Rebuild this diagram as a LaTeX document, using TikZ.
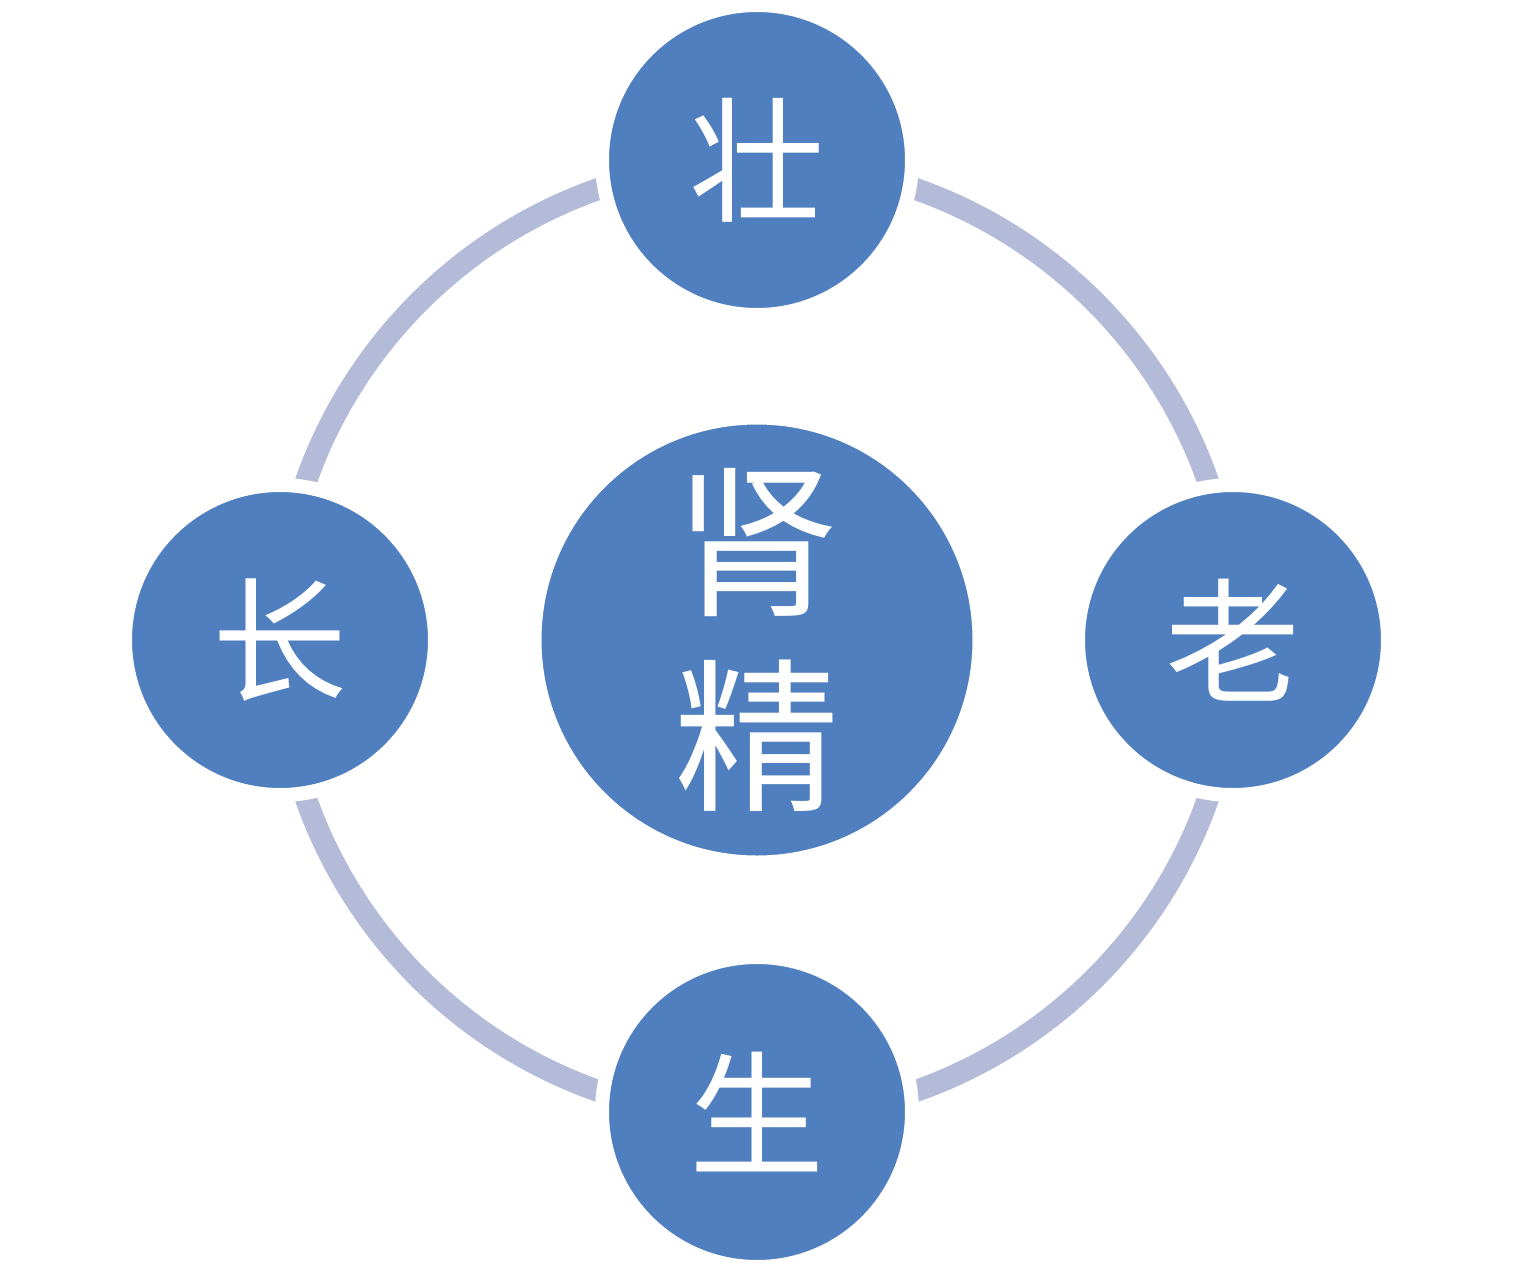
\documentclass[tikz,border=0pt]{standalone}
\usepackage{fontspec}
\newfontfamily\cjk{Noto Sans CJK SC}
\definecolor{ballblue}{HTML}{4F7FBE}
\definecolor{ringblue}{HTML}{B3BBD9}
\tikzset{
  ball/.style={circle,fill=ballblue,draw=white,line width=14pt,inner sep=0pt,text=white,font=\cjk\fontsize{135}{140}\selectfont},
  ring/.style={draw=ringblue,line width=22pt}
}
\begin{document}
\begin{tikzpicture}[x=1pt,y=-1pt]
\useasboundingbox (0,0) rectangle (1516,1280);
\coordinate (c) at (757,640);
\draw[ring] (c) circle[radius=478];
\node[ball,minimum size=445pt,align=center,font=\cjk\fontsize{165}{195}\selectfont] (center) at (757,640) {肾\\精};
\node[ball,minimum size=310pt] (top) at (757,160) {壮};
\node[ball,minimum size=310pt] (left) at (280,640) {长};
\node[ball,minimum size=310pt] (right) at (1233,640) {老};
\node[ball,minimum size=310pt] (bottom) at (757,1112) {生};
\end{tikzpicture}
\end{document}
